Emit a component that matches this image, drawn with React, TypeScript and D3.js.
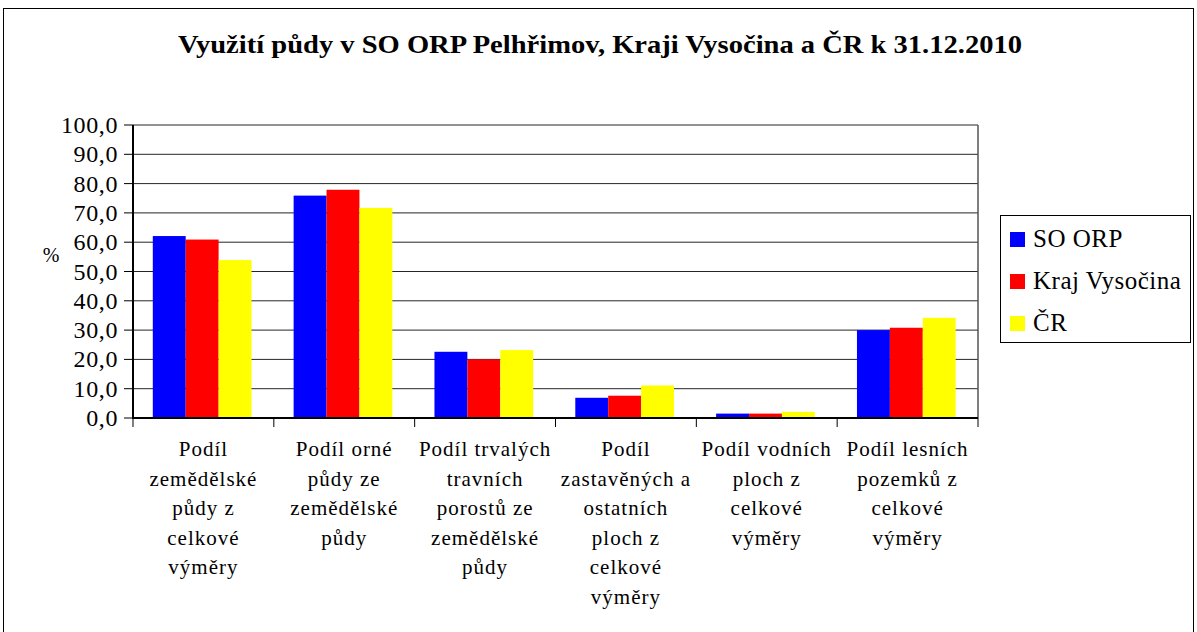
import React from "react";
import * as d3 from "d3";

const categories: string[][] = [
  ["Podíl", "zemědělské", "půdy z", "celkové", "výměry"],
  ["Podíl orné", "půdy ze", "zemědělské", "půdy"],
  ["Podíl trvalých", "travních", "porostů ze", "zemědělské", "půdy"],
  ["Podíl", "zastavěných a", "ostatních", "ploch z", "celkové", "výměry"],
  ["Podíl vodních", "ploch z", "celkové", "výměry"],
  ["Podíl lesních", "pozemků z", "celkové", "výměry"],
];
const seriesNames = ["SO ORP", "Kraj Vysočina", "ČR"];
const soOrp = [62.1, 75.9, 22.6, 6.9, 1.5, 30.0];
const krajVysocina = [60.9, 77.9, 20.0, 7.6, 1.5, 30.8];
const cr = [53.9, 71.7, 23.2, 11.1, 2.1, 34.2];
const yTicks = [0, 10, 20, 30, 40, 50, 60, 70, 80, 90, 100];
const colors = ["#0000FF", "#FF0000", "#FFFF00"];
const title = "Využití půdy v SO ORP Pelhřimov, Kraji Vysočina a ČR k 31.12.2010";

export default function App() {
  const W = 1197, H = 632;
  const left = 133, right = 978, top = 125, bottom = 418;
  const series = [soOrp, krajVysocina, cr];
  const x0 = d3.scaleBand<number>().domain(d3.range(categories.length)).range([left, right]).paddingInner(0).paddingOuter(0);
  const x1 = d3.scaleBand<number>().domain([0, 1, 2]).range([0, x0.bandwidth()]).paddingOuter(0.64).paddingInner(0).align(0.47);
  const y = d3.scaleLinear().domain([0, 100]).range([bottom, top]);
  const font = "'Times New Roman', Times, 'Liberation Serif', 'DejaVu Serif', serif";
  const fmt = (v: number) => v.toFixed(1).replace(".", ",");

  return (
    <svg width={W} height={H} style={{ position: "absolute", left: 0, top: 0 }} fontFamily={font}>
      <rect x={0} y={0} width={W} height={H} fill="#fff" />
      <rect x={3.5} y={8.5} width={1190} height={630} fill="none" stroke="#000" strokeWidth={1} />
      <text x={600} y={53} textAnchor="middle" fontWeight="bold" fontSize={25} textLength={844} lengthAdjust="spacingAndGlyphs">{title}</text>

      {yTicks.map((t) => (
        <line key={t} x1={left} x2={right} y1={y(t)} y2={y(t)} stroke="#000" strokeWidth={1} opacity={t === 0 ? 1 : 0.85} />
      ))}
      <line x1={right} x2={right} y1={top} y2={bottom} stroke="#555" strokeWidth={1.5} />

      {series.map((s, si) =>
        s.map((v, ci) => (
          <rect key={`${si}-${ci}`} x={(x0(ci) as number) + (x1(si) as number)} y={y(v)} width={x1.bandwidth()} height={y(0) - y(v)} fill={colors[si]} />
        ))
      )}

      <line x1={left} x2={left} y1={top} y2={bottom + 1} stroke="#000" strokeWidth={2} />
      <line x1={left} x2={right} y1={bottom} y2={bottom} stroke="#000" strokeWidth={2} />
      {yTicks.map((t) => (
        <g key={t}>
          <line x1={left - 9} x2={left} y1={y(t)} y2={y(t)} stroke="#000" strokeWidth={1} />
          <text x={118} y={y(t) + 8} textAnchor="end" fontSize={24} letterSpacing={0.6}>{fmt(t)}</text>
        </g>
      ))}
      {d3.range(categories.length + 1).map((i) => {
        const xx = left + i * x0.bandwidth();
        return <line key={i} x1={xx} x2={xx} y1={bottom} y2={bottom + 9} stroke="#000" strokeWidth={1} />;
      })}
      <text x={51} y={262} textAnchor="middle" fontSize={20}>%</text>

      {categories.map((lines, ci) => (
        <text key={ci} textAnchor="middle" fontSize={21} letterSpacing={1.0}>
          {lines.map((ln, li) => (
            <tspan key={li} x={(x0(ci) as number) + x0.bandwidth() / 2} y={456 + li * 29.5}>{ln}</tspan>
          ))}
        </text>
      ))}

      <rect x={1000.5} y={215.5} width={190} height={127} fill="#fff" stroke="#000" strokeWidth={1} />
      {seriesNames.map((n, i) => (
        <g key={n}>
          <rect x={1010} y={232 + i * 42} width={15} height={15} fill={colors[i]} />
          <text x={1033} y={247 + i * 42} fontSize={25} letterSpacing={0.5}>{n}</text>
        </g>
      ))}
    </svg>
  );
}
